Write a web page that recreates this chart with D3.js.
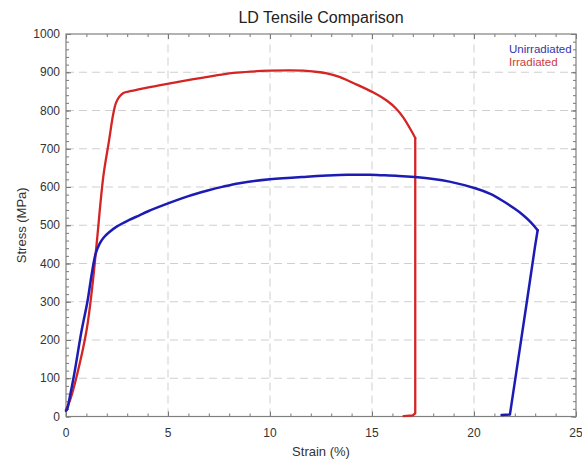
<!DOCTYPE html>
<html>
<head>
<meta charset="utf-8">
<script src="https://cdnjs.cloudflare.com/ajax/libs/d3/7.8.5/d3.min.js"></script>
<style>
  body { margin: 0; background: #fff; }
  svg { font-family: "Liberation Sans", Arial, sans-serif; }
</style>
</head>
<body>
<div id="chart"></div>
<script>
// values
const seriesNames = ['Unirradiated', 'Irradiated'];

// loading curve up to fracture, then the unloading drop
const unirrStrain = [0, 0.05, 0.2, 0.4, 0.77, 1.05, 1.26, 1.45, 1.65, 1.85, 2.1, 2.5, 3.1, 3.6, 4.0, 5.1, 6.0, 6.9, 7.7, 8.5, 10.0, 11.8, 12.8, 13.8, 14.9, 15.4, 16.3, 17.1, 18.0, 18.8, 20.1, 20.8, 21.4, 22.0, 22.4, 22.8, 23.12];
const unirrStress = [15, 18, 55, 110, 226, 300, 372, 425, 452, 468, 481, 497, 514, 526, 536, 559, 576, 590, 601, 610, 620, 627, 630, 632, 632, 631, 629, 626, 621, 614, 596, 582, 564, 543, 527, 507, 487];
const unirrDropStrain = [23.12, 22.99, 22.58, 22.09, 21.76, 21.35];
const unirrDropStress = [487, 444, 296, 122, 5, 4];

const irrStrain = [0, 0.2, 0.5, 1.01, 1.3, 1.5, 1.83, 2.1, 2.32, 2.45, 2.6, 2.81, 3.2, 3.79, 4.5, 5.1, 5.5, 6.73, 7.5, 8.37, 10.0, 11.0, 11.63, 12.45, 12.78, 13.4, 14.08, 15.07, 15.72, 16.2, 16.53, 16.95, 17.12];
const irrStress = [18, 43, 100, 226, 345, 450, 628, 718, 792, 820, 835, 846, 851, 858, 865, 871, 875, 886, 893, 899, 904, 905, 904, 900, 897, 888, 872, 847, 826, 804, 782, 745, 728];
const irrDropStrain = [17.12, 17.12, 17.0, 16.55];
const irrDropStress = [728, 8, 3, 1];

const xTicks = [0, 5, 10, 15, 20, 25];
const yTicks = [0, 100, 200, 300, 400, 500, 600, 700, 800, 900, 1000];
const xMinor = d3.range(0, 26, 1);
const yMinor = d3.range(0, 1001, 20);

const width = 582, height = 460;
const margin = {top: 34, right: 6, bottom: 43.5, left: 66};

const svg = d3.select('#chart').append('svg')
    .attr('width', width)
    .attr('height', height);

const x = d3.scaleLinear()
    .domain([0, 25])
    .range([margin.left, width - margin.right]);

const y = d3.scaleLinear()
    .domain([0, 1000])
    .range([height - margin.bottom, margin.top]);

const blue = '#1c1cb4';
const red = '#d42424';

// grid
let grid = svg.append('g').attr('class', 'grid');
grid.selectAll('.gx')
    .data(xTicks.slice(1, -1))
    .enter().append('line')
    .attr('x1', d => x(d)).attr('x2', d => x(d))
    .attr('y1', y(0)).attr('y2', y(1000))
    .attr('stroke', '#cfcfcf')
    .attr('stroke-dasharray', '8,5');
grid.selectAll('.gy')
    .data(yTicks.slice(1, -1))
    .enter().append('line')
    .attr('y1', d => y(d)).attr('y2', d => y(d))
    .attr('x1', x(0)).attr('x2', x(25))
    .attr('stroke', '#cfcfcf')
    .attr('stroke-dasharray', '8,5');

// axes: ticks point inward on all four sides
function inward(axisFn, scale, values, size) {
    return axisFn(scale).tickValues(values).tickSize(size).tickFormat('');
}

const tickColor = '#777';

let axes = svg.append('g');
axes.append('g').attr('transform', `translate(0,${y(0)})`)
    .call(inward(d3.axisTop, x, xMinor, 3));
axes.append('g').attr('transform', `translate(0,${y(0)})`)
    .call(inward(d3.axisTop, x, xTicks, 5));
axes.append('g').attr('transform', `translate(0,${y(1000)})`)
    .call(inward(d3.axisBottom, x, xMinor, 3));
axes.append('g').attr('transform', `translate(0,${y(1000)})`)
    .call(inward(d3.axisBottom, x, xTicks, 5));
axes.append('g').attr('transform', `translate(${x(0)},0)`)
    .call(inward(d3.axisRight, y, yMinor, 3));
axes.append('g').attr('transform', `translate(${x(0)},0)`)
    .call(inward(d3.axisRight, y, yTicks, 5));
axes.append('g').attr('transform', `translate(${x(25)},0)`)
    .call(inward(d3.axisLeft, y, yMinor, 3));
axes.append('g').attr('transform', `translate(${x(25)},0)`)
    .call(inward(d3.axisLeft, y, yTicks, 5));

axes.selectAll('.domain').remove();
axes.selectAll('line').attr('stroke', tickColor);

// frame
svg.append('rect')
    .attr('x', x(0)).attr('y', y(1000))
    .attr('width', x(25) - x(0))
    .attr('height', y(0) - y(1000))
    .attr('fill', 'none')
    .attr('stroke', '#808080')
    .attr('stroke-width', 1.2);

// tick labels
svg.append('g').selectAll('text')
    .data(xTicks)
    .enter().append('text')
    .text(d => d)
    .attr('x', d => x(d))
    .attr('y', y(0) + 20)
    .attr('text-anchor', 'middle')
    .attr('font-size', 12)
    .attr('fill', '#333');

svg.append('g').selectAll('text')
    .data(yTicks)
    .enter().append('text')
    .text(d => d)
    .attr('x', x(0) - 6)
    .attr('y', d => y(d) + 4)
    .attr('text-anchor', 'end')
    .attr('font-size', 12)
    .attr('fill', '#333');

// lines
let smooth = d3.line()
    .x(d => x(d[0]))
    .y(d => y(d[1]))
    .curve(d3.curveCatmullRom.alpha(0.5));

let straight = d3.line()
    .x(d => x(d[0]))
    .y(d => y(d[1]));

function pairs(xs, ys) {
    return xs.map((s, i) => [s, ys[i]]);
}

function drawSeries(load, drop, color, w) {
    let g = svg.append('g')
        .attr('fill', 'none')
        .attr('stroke', color)
        .attr('stroke-width', w)
        .attr('stroke-linejoin', 'round')
        .attr('stroke-linecap', 'round');
    g.append('path').attr('d', smooth(load));
    g.append('path').attr('d', straight(drop));
}

drawSeries(pairs(irrStrain, irrStress), pairs(irrDropStrain, irrDropStress), red, 2.3);
drawSeries(pairs(unirrStrain, unirrStress), pairs(unirrDropStrain, unirrDropStress), blue, 2.5);

// title + axis labels
svg.append('text')
    .text('LD Tensile Comparison')
    .attr('x', (x(0) + x(25)) / 2)
    .attr('y', 23)
    .attr('text-anchor', 'middle')
    .attr('font-size', 16)
    .attr('fill', '#222');

svg.append('text')
    .text('Strain (%)')
    .attr('x', (x(0) + x(25)) / 2)
    .attr('y', 456)
    .attr('text-anchor', 'middle')
    .attr('font-size', 13)
    .attr('fill', '#333');

svg.append('text')
    .text('Stress (MPa)')
    .attr('transform', `translate(26,${(y(0) + y(1000)) / 2}) rotate(-90)`)
    .attr('text-anchor', 'middle')
    .attr('font-size', 13)
    .attr('fill', '#333');

// legend
let leg = svg.append('g');
leg.append('text')
    .text(seriesNames[0])
    .attr('x', 509).attr('y', 53)
    .attr('font-size', 11.5)
    .attr('fill', '#3535a8');
leg.append('text')
    .text(seriesNames[1])
    .attr('x', 509).attr('y', 66)
    .attr('font-size', 11.5)
    .attr('fill', '#cc3b3b');
</script>
</body>
</html>
